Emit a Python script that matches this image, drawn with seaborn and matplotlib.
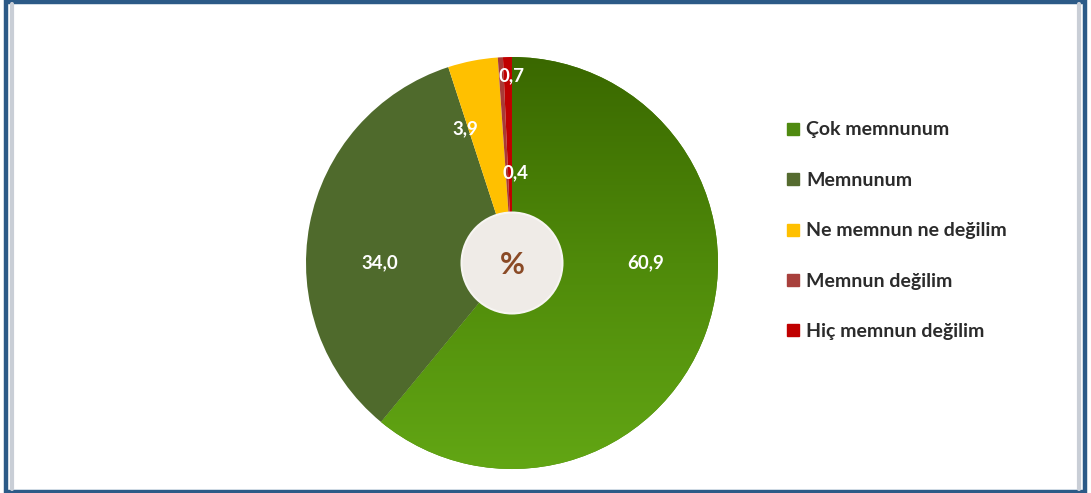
import numpy as np
import matplotlib
matplotlib.use("Agg")
import matplotlib.pyplot as plt
import seaborn as sns
from matplotlib.patches import Rectangle, Circle
from matplotlib.lines import Line2D
from matplotlib.colors import LinearSegmentedColormap

# Satisfaction survey shares (%)
categories = ["Çok memnunum", "Memnunum", "Ne memnun ne değilim",
              "Memnun değilim", "Hiç memnun değilim"]
values = [60.9, 34.0, 3.9, 0.4, 0.7]
value_labels = ["60,9", "34,0", "3,9", "0,4", "0,7"]

colors = ["#4d8709", "#4f6a2c", "#ffc000", "#a83a36", "#c00000"]
legend_colors = ["#4f8a10", "#556b2f", "#ffc000", "#a8403c", "#c00000"]

# label placement (radius, angle in degrees) for each slice
label_pos = [(0.65, 0), (0.64, 180), (0.69, 109), (0.44, 88), (0.91, 90)]

sns.set_theme(style="white")
plt.rcParams["font.family"] = ["Lato", "DejaVu Sans"]

W, H = 1091, 493
fig = plt.figure(figsize=(W / 100, H / 100), dpi=100)
fig.patch.set_facecolor("white")

R_PX = 206
cx, cy = 512, H - 263
ax = fig.add_axes([(cx - R_PX) / W, (cy - R_PX) / H, 2 * R_PX / W, 2 * R_PX / H])

wedges, _ = ax.pie(values, colors=colors, startangle=90, counterclock=False,
                   radius=1.0, wedgeprops=dict(linewidth=0))

# vertical gradient on the largest slice: darker at the top
grad = LinearSegmentedColormap.from_list("g", ["#3a6800", "#4f8a0a", "#62a614"])
img = ax.imshow(np.linspace(0, 1, 256).reshape(-1, 1), cmap=grad,
                extent=[-1, 1, -1, 1], origin="upper", aspect="auto",
                zorder=1.5, interpolation="bilinear")
img.set_clip_path(wedges[0])

ax.add_patch(Circle((0, 0), 0.245, facecolor="#efebe7", edgecolor="#f7f5f2",
                    linewidth=1.5, zorder=3))
ax.text(0, -0.01, "%", ha="center", va="center", fontsize=22,
        fontweight="bold", color="#8a4a26", zorder=4)

for lab, (r, a) in zip(value_labels, label_pos):
    t = np.deg2rad(a)
    ax.text(r * np.cos(t), r * np.sin(t), lab, ha="center", va="center",
            fontsize=13.5, fontweight="bold", color="white", zorder=4)

ax.set_xlim(-1, 1)
ax.set_ylim(-1, 1)
ax.set_aspect("equal")
ax.axis("off")

handles = [Line2D([], [], linestyle="none", marker="s", markersize=8,
                  markerfacecolor=c, markeredgecolor=c) for c in legend_colors]
leg = fig.legend(handles, categories, loc="upper left",
                 bbox_to_anchor=(770 / W, 1 - 104 / H), frameon=False,
                 handlelength=0.6, handletextpad=0.35, labelspacing=1.72,
                 prop=dict(family=["Lato", "DejaVu Sans"], weight="bold", size=14))
for t in leg.get_texts():
    t.set_color("#2b2b2b")

# outer frame
fig.add_artist(Rectangle((5.5 / W, 1.5 / H), (1085 - 5.5) / W, (H - 3) / H,
                         transform=fig.transFigure, fill=False,
                         edgecolor="#2c5a87", linewidth=3.2))
for x in (12, 1079):
    fig.add_artist(Line2D([x / W, x / W], [4 / H, 1 - 4 / H],
                          transform=fig.transFigure, color="#c9ced6", linewidth=3))

fig.savefig("out.png", dpi=100, facecolor="white")
